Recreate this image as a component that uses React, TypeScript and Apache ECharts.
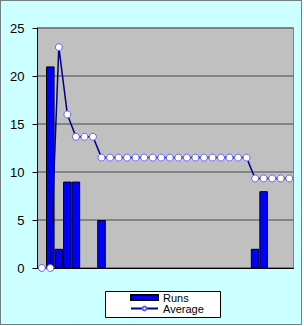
import React, { useEffect, useRef } from "react";
import * as echarts from "echarts";

const categories: string[] = Array.from({ length: 30 }, (_, i) => String(i + 1));
const runs: (number | null)[] = [
  null, 21, 2, 9, 9, null, null, 5, null, null,
  null, null, null, null, null, null, null, null, null, null,
  null, null, null, null, null, 2, 8, null, null, null,
];
const average: number[] = [
  0, 0, 23, 16, 13.67, 13.67, 13.67, 11.5, 11.5, 11.5,
  11.5, 11.5, 11.5, 11.5, 11.5, 11.5, 11.5, 11.5, 11.5, 11.5,
  11.5, 11.5, 11.5, 11.5, 11.5, 9.33, 9.33, 9.33, 9.33, 9.33,
];
const yTicks = { min: 0, max: 25, interval: 5 };

export default function App() {
  const ref = useRef<HTMLDivElement>(null);
  useEffect(() => {
    if (!ref.current) return;
    const chart = echarts.init(ref.current, null, { renderer: "svg" });
    const font = "'Liberation Sans', Arial, sans-serif";
    const legendBase = {
      orient: "vertical",
      left: 130,
      padding: 0,
      itemWidth: 27,
      itemHeight: 5,
      itemGap: 0,
      textStyle: { fontFamily: font, fontSize: 11, color: "#000" },
    };
    chart.setOption({
      animation: false,
      backgroundColor: "transparent",
      graphic: [
        {
          type: "rect",
          z: -10,
          shape: { x: 0.5, y: 0.5, width: 301, height: 324 },
          style: { fill: "#ccffff", stroke: "#000", lineWidth: 1, lineDash: [1, 1] },
        },
        {
          type: "rect",
          z: -5,
          shape: { x: 105.5, y: 291.5, width: 115, height: 26 },
          style: { fill: "#ffffff", stroke: "#000", lineWidth: 1 },
        },
      ],
      grid: {
        left: 37.5,
        top: 28,
        right: 10.5,
        bottom: 58,
        show: true,
        backgroundColor: "#c0c0c0",
        borderColor: "#808080",
        borderWidth: 1,
      },
      legend: [
        { ...legendBase, top: 292, data: [{ name: "Runs", icon: "rect" }] },
        { ...legendBase, top: 303, data: [{ name: "Average" }] },
      ],
      xAxis: {
        type: "category",
        data: categories,
        axisLabel: { show: false },
        axisTick: { show: false },
        axisLine: { show: true, lineStyle: { color: "#000", width: 1 } },
        splitLine: { show: false },
      },
      yAxis: {
        type: "value",
        min: yTicks.min,
        max: yTicks.max,
        interval: yTicks.interval,
        axisLine: { show: true, lineStyle: { color: "#000", width: 1 } },
        axisTick: { show: true, length: 5, lineStyle: { color: "#000" } },
        axisLabel: { fontFamily: font, fontSize: 13, color: "#000", margin: 13 },
        splitLine: { show: true, lineStyle: { color: "#707070", width: 1.5 } },
      },
      series: [
        {
          name: "Runs",
          type: "bar",
          data: runs,
          barWidth: "100%",
          barCategoryGap: "0%",
          itemStyle: { color: "#0000ff", borderColor: "#000", borderWidth: 1 },
        },
        {
          name: "Average",
          type: "line",
          data: average,
          symbol: "circle",
          symbolSize: 7,
          showSymbol: true,
          showAllSymbol: true,
          z: 5,
          lineStyle: { color: "#000080", width: 1.5 },
          itemStyle: { color: "#ffffff", borderColor: "#6060ff", borderWidth: 1 },
        },
      ],
    });
    return () => chart.dispose();
  }, []);
  return (
    <div
      ref={ref}
      style={{ position: "absolute", left: 0, top: 0, width: 304, height: 326 }}
    />
  );
}
